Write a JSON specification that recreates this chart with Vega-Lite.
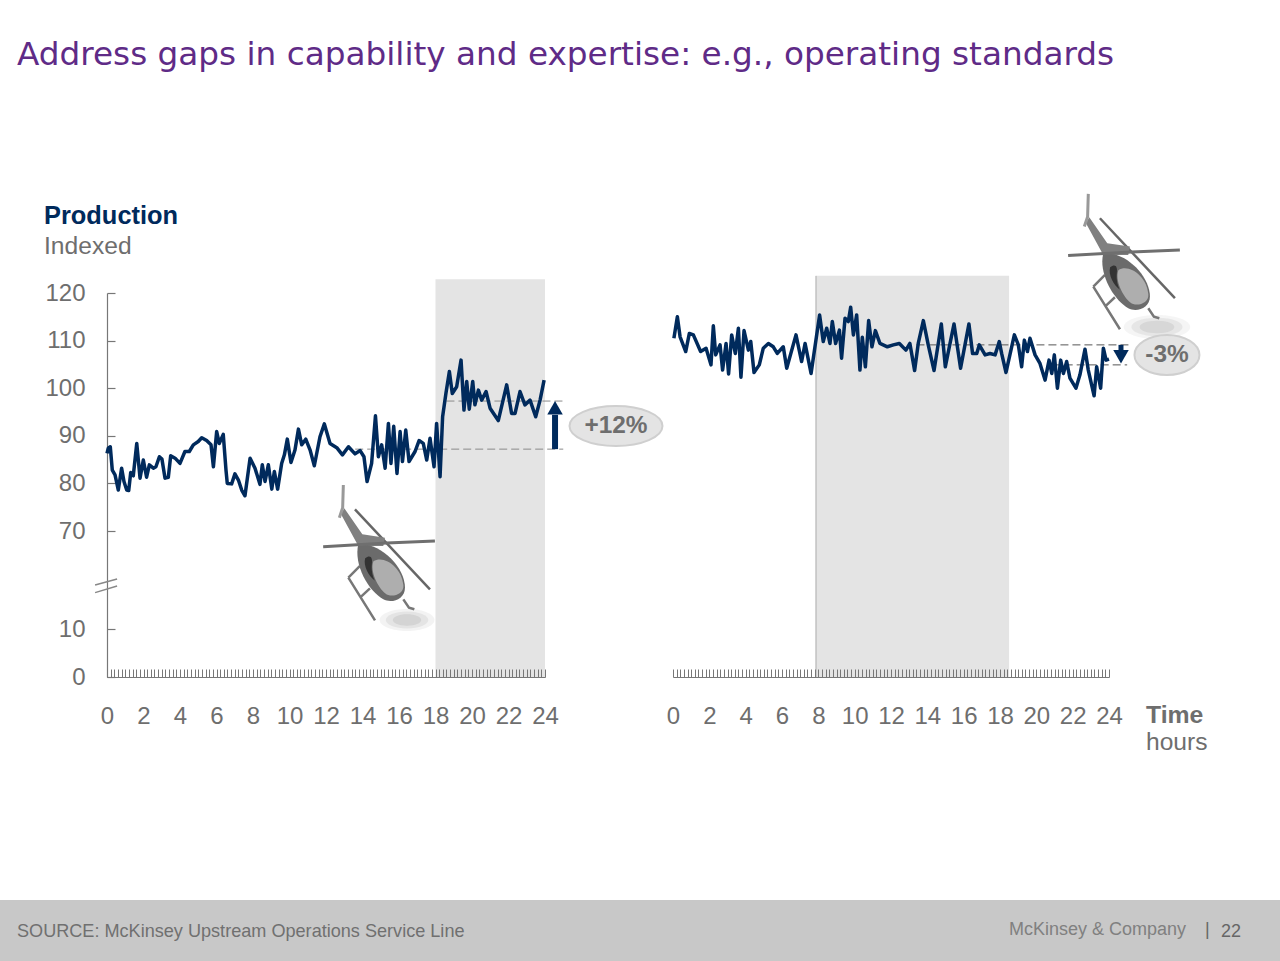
{
"$schema":"https://vega.github.io/schema/vega-lite/v6.json",
"width":1280,"height":961,"autosize":{"type":"none"},"padding":0,"background":"white",
"config":{"view":{"stroke":null},"font":"Liberation Sans"},
"title":{"text":"Address gaps in capability and expertise: e.g., operating standards","anchor":"start","frame":"group","baseline":"alphabetic","offset":-98,"dx":17,"fontSize":32.7,"font":"DejaVu Sans","fontWeight":"normal","color":"#5f2b87"},
"datasets":{
"left":[{"hour":0,"idx":86.3},{"hour":0.07,"idx":87.4},{"hour":0.18,"idx":87.7},{"hour":0.29,"idx":82.8},{"hour":0.44,"idx":81.8},{"hour":0.62,"idx":78.6},{"hour":0.8,"idx":83.2},{"hour":0.93,"idx":80.4},{"hour":1.08,"idx":78.6},{"hour":1.19,"idx":78.5},{"hour":1.3,"idx":82.3},{"hour":1.44,"idx":81.6},{"hour":1.63,"idx":88.4},{"hour":1.81,"idx":81.1},{"hour":1.99,"idx":84.9},{"hour":2.17,"idx":81.3},{"hour":2.32,"idx":83.9},{"hour":2.54,"idx":83.2},{"hour":2.68,"idx":83.5},{"hour":2.87,"idx":85.6},{"hour":3.01,"idx":85.1},{"hour":3.18,"idx":81.1},{"hour":3.36,"idx":81.3},{"hour":3.49,"idx":85.8},{"hour":3.73,"idx":85.3},{"hour":4.0,"idx":84.2},{"hour":4.27,"idx":86.7},{"hour":4.51,"idx":86.7},{"hour":4.73,"idx":88.1},{"hour":5.0,"idx":88.8},{"hour":5.19,"idx":89.6},{"hour":5.46,"idx":89.0},{"hour":5.7,"idx":88.1},{"hour":5.83,"idx":83.5},{"hour":6.01,"idx":90.9},{"hour":6.15,"idx":88.4},{"hour":6.37,"idx":90.3},{"hour":6.52,"idx":82.8},{"hour":6.59,"idx":80.0},{"hour":6.83,"idx":79.9},{"hour":7.01,"idx":82.0},{"hour":7.2,"idx":80.7},{"hour":7.38,"idx":78.6},{"hour":7.56,"idx":77.4},{"hour":7.84,"idx":85.3},{"hour":8.11,"idx":83.2},{"hour":8.38,"idx":79.8},{"hour":8.51,"idx":83.9},{"hour":8.66,"idx":80.4},{"hour":8.84,"idx":83.9},{"hour":9.03,"idx":78.8},{"hour":9.17,"idx":82.5},{"hour":9.35,"idx":78.8},{"hour":9.57,"idx":84.2},{"hour":9.72,"idx":86.0},{"hour":9.88,"idx":89.3},{"hour":10.08,"idx":84.4},{"hour":10.3,"idx":87.0},{"hour":10.49,"idx":91.4},{"hour":10.67,"idx":88.1},{"hour":10.89,"idx":89.3},{"hour":11.13,"idx":87.0},{"hour":11.36,"idx":83.7},{"hour":11.67,"idx":89.8},{"hour":11.91,"idx":92.5},{"hour":12.22,"idx":88.4},{"hour":12.59,"idx":87.5},{"hour":12.9,"idx":86.0},{"hour":13.23,"idx":87.7},{"hour":13.59,"idx":86.2},{"hour":13.87,"idx":86.9},{"hour":14.08,"idx":85.6},{"hour":14.25,"idx":80.4},{"hour":14.5,"idx":84.2},{"hour":14.71,"idx":94.2},{"hour":14.87,"idx":85.6},{"hour":15.05,"idx":88.1},{"hour":15.24,"idx":83.2},{"hour":15.42,"idx":92.6},{"hour":15.56,"idx":84.2},{"hour":15.71,"idx":92.0},{"hour":15.89,"idx":82.1},{"hour":16.06,"idx":90.9},{"hour":16.19,"idx":84.6},{"hour":16.37,"idx":91.2},{"hour":16.55,"idx":84.6},{"hour":16.88,"idx":86.7},{"hour":17.1,"idx":89.0},{"hour":17.33,"idx":88.4},{"hour":17.52,"idx":84.9},{"hour":17.7,"idx":89.5},{"hour":17.92,"idx":83.5},{"hour":18.06,"idx":92.6},{"hour":18.25,"idx":81.4},{"hour":18.39,"idx":94.0},{"hour":18.57,"idx":98.9},{"hour":18.76,"idx":103.5},{"hour":18.92,"idx":98.9},{"hour":19.16,"idx":100.3},{"hour":19.4,"idx":105.9},{"hour":19.56,"idx":95.4},{"hour":19.71,"idx":101.4},{"hour":19.85,"idx":95.6},{"hour":20.04,"idx":101.4},{"hour":20.16,"idx":96.5},{"hour":20.35,"idx":99.6},{"hour":20.53,"idx":97.5},{"hour":20.77,"idx":99.3},{"hour":20.99,"idx":95.8},{"hour":21.44,"idx":93.2},{"hour":21.9,"idx":100.7},{"hour":22.17,"idx":94.7},{"hour":22.36,"idx":94.7},{"hour":22.63,"idx":99.3},{"hour":22.9,"idx":96.5},{"hour":23.18,"idx":97.5},{"hour":23.49,"idx":94.0},{"hour":23.73,"idx":97.5},{"hour":23.95,"idx":101.7}],
"right":[{"hour":0.05,"idx":110.5},{"hour":0.24,"idx":115.0},{"hour":0.39,"idx":110.8},{"hour":0.7,"idx":107.7},{"hour":0.9,"idx":111.5},{"hour":1.12,"idx":111.2},{"hour":1.52,"idx":107.7},{"hour":1.82,"idx":108.4},{"hour":2.09,"idx":104.9},{"hour":2.22,"idx":113.1},{"hour":2.35,"idx":107.0},{"hour":2.59,"idx":109.1},{"hour":2.73,"idx":103.8},{"hour":2.92,"idx":109.4},{"hour":3.06,"idx":103.0},{"hour":3.23,"idx":111.2},{"hour":3.43,"idx":107.3},{"hour":3.6,"idx":112.6},{"hour":3.74,"idx":102.3},{"hour":3.91,"idx":112.1},{"hour":4.15,"idx":108.0},{"hour":4.28,"idx":109.8},{"hour":4.46,"idx":103.3},{"hour":4.75,"idx":104.9},{"hour":4.97,"idx":108.4},{"hour":5.25,"idx":109.4},{"hour":5.52,"idx":108.7},{"hour":5.74,"idx":107.3},{"hour":6.07,"idx":108.7},{"hour":6.26,"idx":104.2},{"hour":6.77,"idx":111.2},{"hour":7.08,"idx":105.6},{"hour":7.27,"idx":109.4},{"hour":7.6,"idx":103.1},{"hour":8.07,"idx":115.4},{"hour":8.27,"idx":109.8},{"hour":8.46,"idx":112.6},{"hour":8.64,"idx":109.4},{"hour":8.77,"idx":114.0},{"hour":8.95,"idx":109.4},{"hour":9.16,"idx":112.2},{"hour":9.28,"idx":106.3},{"hour":9.47,"idx":114.7},{"hour":9.65,"idx":114.0},{"hour":9.78,"idx":117.0},{"hour":9.93,"idx":111.2},{"hour":10.11,"idx":115.4},{"hour":10.29,"idx":103.8},{"hour":10.42,"idx":110.7},{"hour":10.59,"idx":104.5},{"hour":10.77,"idx":114.2},{"hour":10.95,"idx":108.7},{"hour":11.14,"idx":112.1},{"hour":11.39,"idx":109.4},{"hour":11.8,"idx":108.7},{"hour":12.13,"idx":109.1},{"hour":12.46,"idx":109.4},{"hour":12.82,"idx":108.0},{"hour":13.04,"idx":109.4},{"hour":13.3,"idx":103.7},{"hour":13.5,"idx":109.4},{"hour":13.78,"idx":114.2},{"hour":14.05,"idx":109.1},{"hour":14.37,"idx":103.7},{"hour":14.77,"idx":113.5},{"hour":14.99,"idx":104.5},{"hour":15.25,"idx":109.4},{"hour":15.47,"idx":113.5},{"hour":15.83,"idx":104.2},{"hour":16.29,"idx":113.5},{"hour":16.49,"idx":107.3},{"hour":16.72,"idx":107.3},{"hour":16.86,"idx":109.1},{"hour":17.18,"idx":107.0},{"hour":17.45,"idx":107.3},{"hour":17.73,"idx":107.0},{"hour":17.96,"idx":109.8},{"hour":18.09,"idx":107.3},{"hour":18.33,"idx":103.3},{"hour":18.52,"idx":106.6},{"hour":18.79,"idx":111.2},{"hour":19.01,"idx":109.1},{"hour":19.19,"idx":104.5},{"hour":19.34,"idx":110.1},{"hour":19.51,"idx":107.7},{"hour":19.65,"idx":110.5},{"hour":19.93,"idx":107.0},{"hour":20.2,"idx":105.2},{"hour":20.48,"idx":101.7},{"hour":20.7,"idx":105.9},{"hour":20.85,"idx":103.1},{"hour":20.99,"idx":107.0},{"hour":21.16,"idx":100.0},{"hour":21.34,"idx":105.9},{"hour":21.49,"idx":103.1},{"hour":21.67,"idx":105.6},{"hour":21.85,"idx":102.1},{"hour":22.18,"idx":100.0},{"hour":22.4,"idx":102.8},{"hour":22.68,"idx":108.2},{"hour":22.86,"idx":103.8},{"hour":23.18,"idx":98.4},{"hour":23.32,"idx":104.5},{"hour":23.54,"idx":100.0},{"hour":23.69,"idx":108.4},{"hour":23.84,"idx":105.9},{"hour":24.0,"idx":106.1}],
"heliLeft":[{"hour":15.05,"idx":54.7}],
"heliRight":[{"hour":24.97,"idx":125.9}]
},
"layer":[
{"encoding":{"x":{"field":"hour","type":"quantitative","title":null,"scale":{"domain":[0,24],"range":[107,545],"nice":false,"zero":false},"axis":{"orient":"bottom","offset":-284,"zindex":1,"grid":false,"values":[0,0.2,0.4,0.6,0.8,1,1.2,1.4,1.6,1.8,2,2.2,2.4,2.6,2.8,3,3.2,3.4,3.6,3.8,4,4.2,4.4,4.6,4.8,5,5.2,5.4,5.6,5.8,6,6.2,6.4,6.6,6.8,7,7.2,7.4,7.6,7.8,8,8.2,8.4,8.6,8.8,9,9.2,9.4,9.6,9.8,10,10.2,10.4,10.6,10.8,11,11.2,11.4,11.6,11.8,12,12.2,12.4,12.6,12.8,13,13.2,13.4,13.6,13.8,14,14.2,14.4,14.6,14.8,15,15.2,15.4,15.6,15.8,16,16.2,16.4,16.6,16.8,17,17.2,17.4,17.6,17.8,18,18.2,18.4,18.6,18.8,19,19.2,19.4,19.6,19.8,20,20.2,20.4,20.6,20.8,21,21.2,21.4,21.6,21.8,22,22.2,22.4,22.6,22.8,23,23.2,23.4,23.6,23.8,24],"labelExpr":"datum.value % 2 == 0 ? format(datum.value, 'd') : ''","labelOverlap":false,"labelFlush":false,"labelFontSize":24,"labelFont":"Liberation Sans","labelColor":"#6e6e6e","labelPadding":35,"tickSize":-8,"tickColor":"#777777","tickWidth":1,"domainColor":"#777777","domainWidth":1.2}},
"y":{"field":"idx","type":"quantitative","title":null,"scale":{"domain":[0,10,70,120],"range":[677,629,531,293],"nice":false,"zero":false},"axis":{"orient":"left","offset":-107,"grid":false,"values":[0,10,70,80,90,100,110,120],"labelOverlap":false,"labelFlush":false,"labelFontSize":24,"labelFont":"Liberation Sans","labelColor":"#6e6e6e","labelPadding":30,"tickSize":-8,"tickColor":"#777777","tickWidth":1.2,"domainColor":"#777777","domainWidth":1.2}}},
"layer":[
{"data":{"values":[{"hour":-5.87,"hour2":64.3,"idx":-46.46,"idx2":-59.3}]},"mark":{"type":"rect","color":"#c8c8c8"},"encoding":{"x2":{"field":"hour2"},"y2":{"field":"idx2"}}},
{"data":{"values":[{"hour":18,"hour2":24,"idx":0,"idx2":122.9}]},"mark":{"type":"rect","color":"#e4e4e4"},"encoding":{"x2":{"field":"hour2"},"y2":{"field":"idx2"}}},
{"data":{"values":[{"hour":13.6,"hour2":25,"idx":87.2},{"hour":18.6,"hour2":25,"idx":97.3}]},"mark":{"type":"rule","color":"#8a8a8a","strokeDash":[8,4],"strokeWidth":1},"encoding":{"x2":{"field":"hour2"}}},
{"data":{"name":"left"},"mark":{"type":"line","color":"#002a5c","strokeWidth":3.5,"strokeJoin":"round"}},
{"data":{"values":[{"hour":24.55,"idx":87.2,"idx2":94.4}]},"mark":{"type":"rule","color":"#002a5c","strokeWidth":6},"encoding":{"y2":{"field":"idx2"}}},
{"data":{"values":[{"hour":24.55,"idx":95.9}]},"mark":{"type":"point","shape":"triangle-up","filled":true,"opacity":1,"color":"#002a5c","size":240}},
{"data":{"values":[{"hour":27.89,"idx":92.06}]},"mark":{"type":"point","shape":"M-1,0 A1,0.43 0 1,1 1,0 A1,0.43 0 1,1 -1,0 Z","size":8649,"fill":"#e4e4e4","stroke":"#cfcfcf","strokeWidth":2,"opacity":1}},
{"data":{"values":[{"hour":-0.05,"idx":36.3}]},"mark":{"type":"point","shape":"M-1,-0.09 L1,-0.64 M-1,0.6 L1,0","size":484,"fill":null,"stroke":"#888888","strokeWidth":1.5,"opacity":1}},
{"data":{"values":[{"hour":16.44,"idx":15.5}]},"mark":{"type":"point","shape":"M-1,0 A1,0.4 0 1,1 1,0 A1,0.4 0 1,1 -1,0 Z","size":3000,"filled":true,"color":"#d0d0d0","opacity":0.25}},
{"data":{"values":[{"hour":16.44,"idx":15.5}]},"mark":{"type":"point","shape":"M-1,0 A1,0.4 0 1,1 1,0 A1,0.4 0 1,1 -1,0 Z","size":1800,"filled":true,"color":"#cccccc","opacity":0.4}},
{"data":{"values":[{"hour":16.44,"idx":15.5}]},"mark":{"type":"point","shape":"M-1,0 A1,0.4 0 1,1 1,0 A1,0.4 0 1,1 -1,0 Z","size":800,"filled":true,"color":"#c4c4c4","opacity":0.5}},
{"data":{"name":"heliLeft"},"mark":{"type":"point","shape":"M-0.356,-0.622 L0.644,0.444","size":22500,"fill":null,"stroke":"#666666","strokeWidth":2.5,"opacity":1}},
{"data":{"name":"heliLeft"},"mark":{"type":"point","shape":"M-0.498,-0.636 L-0.258,-0.289 L0.044,-0.244 L0.022,-0.133 L-0.311,-0.133 L-0.542,-0.556 Z","size":22500,"filled":true,"color":"#808080","opacity":1}},
{"data":{"name":"heliLeft"},"mark":{"type":"point","shape":"M-0.511,-0.947 L-0.52,-0.644 L-0.564,-0.511","size":22500,"fill":null,"stroke":"#999999","strokeWidth":3,"opacity":1}},
{"data":{"name":"heliLeft"},"mark":{"type":"point","shape":"M-0.444,0.289 L-0.089,0.858 M-0.444,0.289 L-0.289,0.133 M-0.289,0.556 L-0.156,0.431 M0.289,0.578 L0.364,0.689 L0.436,0.711","size":22500,"fill":null,"stroke":"#777777","strokeWidth":2.5,"opacity":1}},
{"data":{"name":"heliLeft"},"mark":{"type":"point","shape":"M-0.311,-0.156 C0,-0.178 0.311,0.156 0.311,0.422 C0.311,0.578 0.133,0.636 0.022,0.578 C-0.178,0.467 -0.378,0.111 -0.311,-0.156 Z","size":22500,"filled":true,"color":"#6b6b6b","opacity":1}},
{"data":{"name":"heliLeft"},"mark":{"type":"point","shape":"M-0.11,0.07 C0.03,-0.02 0.27,0.15 0.29,0.39 C0.3,0.52 0.12,0.56 0.05,0.5 C-0.05,0.42 -0.16,0.2 -0.11,0.07 Z","size":22500,"filled":true,"color":"#aeaeae","opacity":1}},
{"data":{"name":"heliLeft"},"mark":{"type":"point","shape":"M-0.22,0.03 C-0.15,-0.02 -0.12,0.02 -0.13,0.1 C-0.14,0.2 -0.12,0.27 -0.09,0.33 C-0.17,0.27 -0.25,0.13 -0.22,0.03 Z","size":22500,"filled":true,"color":"#333333","opacity":1}},
{"data":{"name":"heliLeft"},"mark":{"type":"point","shape":"M-0.78,-0.124 L0.067,-0.173 L0.71,-0.2","size":22500,"fill":null,"stroke":"#6f6f6f","strokeWidth":3,"opacity":1}},
{"data":{"values":[{"hour":-3.45,"idx":134.5,"label":"Production"}]},"mark":{"type":"text","align":"left","baseline":"alphabetic","fontSize":25.4,"fontWeight":"bold","font":"Liberation Sans","color":"#002a5c"},"encoding":{"text":{"field":"label"}}},
{"data":{"values":[{"hour":-3.45,"idx":128.2,"label":"Indexed"},{"hour":56.93,"idx":-15.2,"label":"hours"}]},"mark":{"type":"text","align":"left","baseline":"alphabetic","fontSize":24.6,"font":"Liberation Sans","color":"#6e6e6e"},"encoding":{"text":{"field":"label"}}},
{"data":{"values":[{"hour":56.93,"idx":-9.58,"label":"Time"}]},"mark":{"type":"text","align":"left","baseline":"alphabetic","fontSize":24.8,"fontWeight":"bold","font":"Liberation Sans","color":"#6e6e6e"},"encoding":{"text":{"field":"label"}}},
{"data":{"values":[{"hour":27.89,"idx":92.06,"label":"+12%"}]},"mark":{"type":"text","align":"center","baseline":"middle","fontSize":24.4,"fontWeight":"bold","font":"Liberation Sans","color":"#6e6e6e"},"encoding":{"text":{"field":"label"}}},
{"data":{"values":[{"hour":-4.93,"idx":-54.17,"label":"SOURCE: McKinsey Upstream Operations Service Line"}]},"mark":{"type":"text","align":"left","baseline":"alphabetic","fontSize":18.1,"font":"Liberation Sans","color":"#707070"},"encoding":{"text":{"field":"label"}}},
{"data":{"values":[{"hour":49.42,"idx":-53.75,"label":"McKinsey & Company"}]},"mark":{"type":"text","align":"left","baseline":"alphabetic","fontSize":18,"font":"Liberation Sans","color":"#808080"},"encoding":{"text":{"field":"label"}}},
{"data":{"values":[{"hour":60.16,"idx":-53.75,"label":"|"},{"hour":61.04,"idx":-54.17,"label":"22"}]},"mark":{"type":"text","align":"left","baseline":"alphabetic","fontSize":18,"font":"Liberation Sans","color":"#666666"},"encoding":{"text":{"field":"label"}}}
]},
{"encoding":{"x":{"field":"hour","type":"quantitative","title":null,"scale":{"domain":[0,24],"range":[673,1109],"nice":false,"zero":false},"axis":{"orient":"bottom","offset":-284,"zindex":1,"grid":false,"values":[0,0.2,0.4,0.6,0.8,1,1.2,1.4,1.6,1.8,2,2.2,2.4,2.6,2.8,3,3.2,3.4,3.6,3.8,4,4.2,4.4,4.6,4.8,5,5.2,5.4,5.6,5.8,6,6.2,6.4,6.6,6.8,7,7.2,7.4,7.6,7.8,8,8.2,8.4,8.6,8.8,9,9.2,9.4,9.6,9.8,10,10.2,10.4,10.6,10.8,11,11.2,11.4,11.6,11.8,12,12.2,12.4,12.6,12.8,13,13.2,13.4,13.6,13.8,14,14.2,14.4,14.6,14.8,15,15.2,15.4,15.6,15.8,16,16.2,16.4,16.6,16.8,17,17.2,17.4,17.6,17.8,18,18.2,18.4,18.6,18.8,19,19.2,19.4,19.6,19.8,20,20.2,20.4,20.6,20.8,21,21.2,21.4,21.6,21.8,22,22.2,22.4,22.6,22.8,23,23.2,23.4,23.6,23.8,24],"labelExpr":"datum.value % 2 == 0 ? format(datum.value, 'd') : ''","labelOverlap":false,"labelFlush":false,"labelFontSize":24,"labelFont":"Liberation Sans","labelColor":"#6e6e6e","labelPadding":35,"tickSize":-8,"tickColor":"#777777","tickWidth":1,"domainColor":"#777777","domainWidth":1.2}},
"y":{"field":"idx","type":"quantitative","scale":{"domain":[0,10,70,120],"range":[677,629,531,293],"nice":false,"zero":false}}},
"layer":[
{"data":{"values":[{"hour":7.87,"hour2":18.5,"idx":0,"idx2":123.6}]},"mark":{"type":"rect","fill":"#e4e4e4"},"encoding":{"x2":{"field":"hour2"},"y2":{"field":"idx2"}}},
{"data":{"values":[{"hour":7.87,"idx":0,"idx2":123.6}]},"mark":{"type":"rule","color":"#aaaaaa","strokeWidth":1},"encoding":{"y2":{"field":"idx2"}}},
{"data":{"values":[{"hour":13.4,"hour2":25.15,"idx":109.1},{"hour":20.9,"hour2":25,"idx":104.9}]},"mark":{"type":"rule","color":"#555555","strokeDash":[8,4],"strokeWidth":1},"encoding":{"x2":{"field":"hour2"}}},
{"data":{"name":"right"},"mark":{"type":"line","color":"#002a5c","strokeWidth":3.5,"strokeJoin":"round"}},
{"data":{"values":[{"hour":24.66,"idx":109.1,"idx2":107.5}]},"mark":{"type":"rule","color":"#002a5c","strokeWidth":5},"encoding":{"y2":{"field":"idx2"}}},
{"data":{"values":[{"hour":24.66,"idx":106.6}]},"mark":{"type":"point","shape":"triangle-down","filled":true,"opacity":1,"color":"#002a5c","size":240}},
{"data":{"values":[{"hour":26.64,"idx":112.86}]},"mark":{"type":"point","shape":"M-1,0 A1,0.36 0 1,1 1,0 A1,0.36 0 1,1 -1,0 Z","size":4400,"filled":true,"color":"#d8d8d8","opacity":0.25}},
{"data":{"values":[{"hour":26.64,"idx":112.86}]},"mark":{"type":"point","shape":"M-1,0 A1,0.36 0 1,1 1,0 A1,0.36 0 1,1 -1,0 Z","size":2600,"filled":true,"color":"#d0d0d0","opacity":0.4}},
{"data":{"values":[{"hour":26.64,"idx":112.86}]},"mark":{"type":"point","shape":"M-1,0 A1,0.36 0 1,1 1,0 A1,0.36 0 1,1 -1,0 Z","size":1200,"filled":true,"color":"#c8c8c8","opacity":0.5}},
{"data":{"values":[{"hour":27.19,"idx":106.97}]},"mark":{"type":"point","shape":"M-1,0 A1,0.615 0 1,1 1,0 A1,0.615 0 1,1 -1,0 Z","size":4225,"fill":"#e4e4e4","stroke":"#cfcfcf","strokeWidth":2,"opacity":1}},
{"data":{"values":[{"hour":27.19,"idx":106.97,"label":"-3%"}]},"mark":{"type":"text","align":"center","baseline":"middle","fontSize":24.4,"fontWeight":"bold","font":"Liberation Sans","color":"#6e6e6e"},"encoding":{"text":{"field":"label"}}},
{"data":{"name":"heliRight"},"mark":{"type":"point","shape":"M-0.356,-0.622 L0.644,0.444","size":22500,"fill":null,"stroke":"#666666","strokeWidth":2.5,"opacity":1}},
{"data":{"name":"heliRight"},"mark":{"type":"point","shape":"M-0.498,-0.636 L-0.258,-0.289 L0.044,-0.244 L0.022,-0.133 L-0.311,-0.133 L-0.542,-0.556 Z","size":22500,"filled":true,"color":"#808080","opacity":1}},
{"data":{"name":"heliRight"},"mark":{"type":"point","shape":"M-0.511,-0.947 L-0.52,-0.644 L-0.564,-0.511","size":22500,"fill":null,"stroke":"#999999","strokeWidth":3,"opacity":1}},
{"data":{"name":"heliRight"},"mark":{"type":"point","shape":"M-0.444,0.289 L-0.089,0.858 M-0.444,0.289 L-0.289,0.133 M-0.289,0.556 L-0.156,0.431 M0.289,0.578 L0.364,0.689 L0.436,0.711","size":22500,"fill":null,"stroke":"#777777","strokeWidth":2.5,"opacity":1}},
{"data":{"name":"heliRight"},"mark":{"type":"point","shape":"M-0.311,-0.156 C0,-0.178 0.311,0.156 0.311,0.422 C0.311,0.578 0.133,0.636 0.022,0.578 C-0.178,0.467 -0.378,0.111 -0.311,-0.156 Z","size":22500,"filled":true,"color":"#6b6b6b","opacity":1}},
{"data":{"name":"heliRight"},"mark":{"type":"point","shape":"M-0.11,0.07 C0.03,-0.02 0.27,0.15 0.29,0.39 C0.3,0.52 0.12,0.56 0.05,0.5 C-0.05,0.42 -0.16,0.2 -0.11,0.07 Z","size":22500,"filled":true,"color":"#aeaeae","opacity":1}},
{"data":{"name":"heliRight"},"mark":{"type":"point","shape":"M-0.22,0.03 C-0.15,-0.02 -0.12,0.02 -0.13,0.1 C-0.14,0.2 -0.12,0.27 -0.09,0.33 C-0.17,0.27 -0.25,0.13 -0.22,0.03 Z","size":22500,"filled":true,"color":"#333333","opacity":1}},
{"data":{"name":"heliRight"},"mark":{"type":"point","shape":"M-0.78,-0.124 L0.067,-0.173 L0.71,-0.2","size":22500,"fill":null,"stroke":"#6f6f6f","strokeWidth":3,"opacity":1}}
]}
],
"resolve":{"scale":{"x":"independent"},"axis":{"x":"independent"}}
}
